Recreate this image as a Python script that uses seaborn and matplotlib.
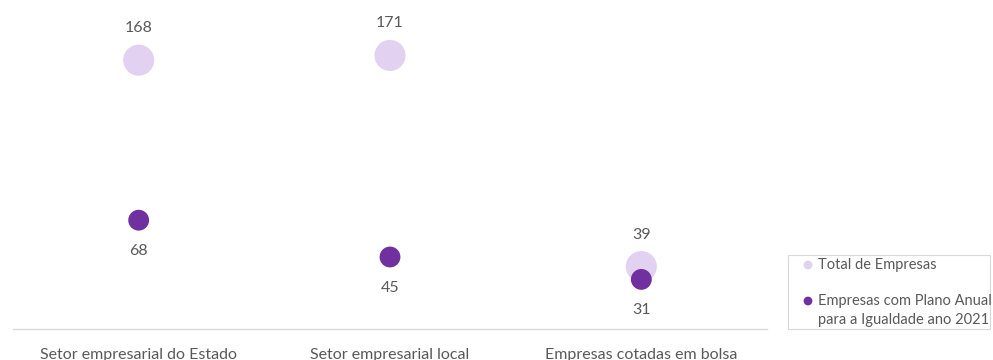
import matplotlib
matplotlib.use("Agg")
import matplotlib.pyplot as plt
from matplotlib.patches import Rectangle
import seaborn as sns
import pandas as pd

# Data
categories = ["Setor empresarial do Estado", "Setor empresarial local", "Empresas cotadas em bolsa"]
total_empresas = [168, 171, 39]
empresas_plano = [68, 45, 31]
series_names = ["Total de Empresas", "Empresas com Plano Anual\npara a Igualdade ano 2021"]

LIGHT = "#E2D1F1"
DARK = "#7030A0"
TEXT = "#595959"

sns.set_theme(style="white")
plt.rcParams["font.family"] = ["Lato", "DejaVu Sans"]

df = pd.DataFrame({
    "categoria": categories * 2,
    "valor": total_empresas + empresas_plano,
    "serie": [series_names[0]] * 3 + [series_names[1]] * 3,
})
df["pos"] = [0, 1, 2, 0, 1, 2]

W, H = 993, 360
fig = plt.figure(figsize=(W / 100, H / 100), dpi=100)
ax = fig.add_axes([13 / W, 31 / H, (767 - 13) / W, (329 - 9) / H])

# Large light circles first, then the smaller dark ones on top
sns.scatterplot(data=df[df["serie"] == series_names[0]], x="pos", y="valor",
                color=LIGHT, s=500, edgecolor="none", ax=ax, legend=False, zorder=2)
sns.scatterplot(data=df[df["serie"] == series_names[1]], x="pos", y="valor",
                color=DARK, s=225, edgecolor="none", ax=ax, legend=False, zorder=3)

ax.set_xlim(-0.5, 2.5)
ax.set_ylim(0, 200)

for i, v in enumerate(total_empresas):
    ax.annotate(str(v), (i, v), xytext=(0, 23), textcoords="offset points",
                ha="center", va="center", fontsize=11.5, color=TEXT)
for i, v in enumerate(empresas_plano):
    ax.annotate(str(v), (i, v), xytext=(0, -22), textcoords="offset points",
                ha="center", va="center", fontsize=11.5, color=TEXT)

for side in ["left", "right", "top"]:
    ax.spines[side].set_visible(False)
ax.spines["bottom"].set_color("#D9D9D9")
ax.spines["bottom"].set_linewidth(1.0)
ax.set_yticks([])
ax.set_xticks([0, 1, 2])
ax.set_xticklabels(categories, fontsize=11.5, color=TEXT)
ax.tick_params(axis="x", length=0, pad=14)
ax.set_xlabel("")
ax.set_ylabel("")

# Legend box drawn in pixel coordinates on an overlay axes
lax = fig.add_axes([0, 0, 1, 1])
lax.set_xlim(0, W)
lax.set_ylim(H, 0)
lax.axis("off")
lax.add_patch(Rectangle((788, 255), 202, 74, facecolor="white",
                        edgecolor="#D9D9D9", linewidth=0.8))
lax.scatter([808, 808], [265, 301], s=[40, 40], c=[LIGHT, DARK],
            edgecolors="none")
lax.text(818, 265, series_names[0], fontsize=10.5, color=TEXT,
         ha="left", va="center")
lax.text(818, 301, series_names[1], fontsize=10.5, color=TEXT,
         ha="left", va="top", linespacing=1.45,
         transform=lax.transData).set_y(294)

fig.savefig("out.png", dpi=100)
